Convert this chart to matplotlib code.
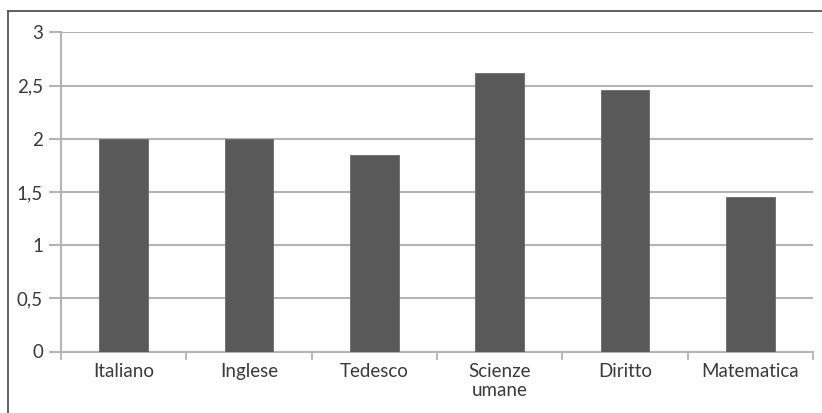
import matplotlib
matplotlib.use("Agg")
import matplotlib.pyplot as plt
import matplotlib.ticker as mticker
from matplotlib.lines import Line2D

# materie e valori medi
materie = ["Italiano", "Inglese", "Tedesco", "Scienze\numane", "Diritto", "Matematica"]
valori = [2.0, 2.0, 1.85, 2.62, 2.46, 1.45]
y_ticks = [0, 0.5, 1, 1.5, 2, 2.5, 3]

plt.rcParams['font.family'] = ['Lato', 'DejaVu Sans']

fig = plt.figure(figsize=(8.22, 4.13), dpi=100)
ax = fig.add_axes([61/822, 1-351.5/413, (813-61)/822, (351.5-32.3)/413])

grid_col = "#b4b4b4"
text_col = "#3a3a3a"
x = range(len(materie))
ax.bar(x, valori, width=0.39, color="#595959", edgecolor="#6a6a6a", linewidth=0.6, zorder=3)

ax.set_xlim(-0.5, len(materie)-0.5)
ax.set_ylim(0, 3)
ax.set_yticks(y_ticks)
ax.yaxis.set_major_formatter(mticker.FuncFormatter(
    lambda v, p: ("%g" % v).replace(".", ",")))
ax.yaxis.grid(True, color=grid_col, linewidth=1.5, zorder=0)

# tick tra le categorie, etichette centrate sotto le barre
ax.set_xticks([i - 0.5 for i in range(len(materie)+1)])
ax.set_xticklabels([])
ax.set_xticks(list(x), minor=True)
ax.set_xticklabels(materie, minor=True, fontsize=13.5, color=text_col, linespacing=1.2)
ax.tick_params(axis="x", which="major", length=6, width=1.3, color=grid_col, direction="out")
ax.tick_params(axis="x", which="minor", length=0, pad=8)
ax.tick_params(axis="y", length=9, width=1.5, color=grid_col, labelsize=13.5,
               labelcolor=text_col, pad=4)

for s in ["top", "right"]:
    ax.spines[s].set_visible(False)
ax.spines["left"].set_color(grid_col)
ax.spines["left"].set_linewidth(1.5)
ax.spines["bottom"].set_color(grid_col)
ax.spines["bottom"].set_linewidth(1.5)

# cornice esterna
fig.add_artist(Line2D([8/822, 8/822], [0, 1-11/413], color="#555555", linewidth=1.3,
                      transform=fig.transFigure))
fig.add_artist(Line2D([8/822, 1], [1-11/413, 1-11/413], color="#555555", linewidth=1.3,
                      transform=fig.transFigure))

fig.savefig("out.png", dpi=100)
